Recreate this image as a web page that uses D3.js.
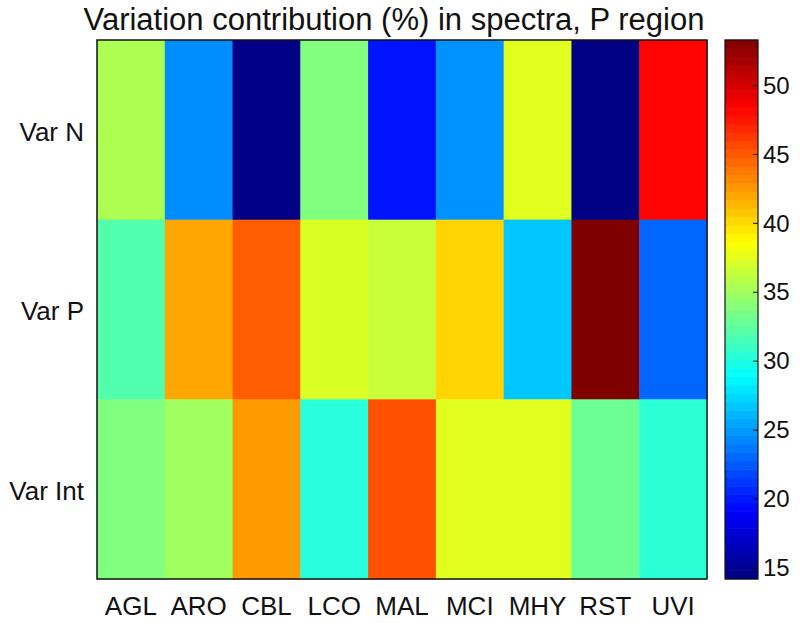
<!DOCTYPE html>
<html><head><meta charset="utf-8">
<script src="https://cdn.jsdelivr.net/npm/d3@7"></script>
<style>body{margin:0;background:#fff;} svg{display:block;font-family:"Liberation Sans",Arial,sans-serif;}</style>
</head><body><svg id="chart" width="800" height="623"></svg>
<script>
const categories = ["AGL","ARO","CBL","LCO","MAL","MCI","MHY","RST","UVI"];
const rows = ["Var N","Var P","Var Int"];
const varN   = [35.5, 24.5, 14.5, 33.8, 19.8, 24.7, 37.5, 14.3, 48.3];
const varP   = [32.0, 42.0, 44.8, 37.2, 36.5, 40.3, 26.7, 53.3, 23.0];
const varInt = [33.8, 35.0, 42.5, 30.3, 45.3, 37.5, 37.5, 33.0, 30.5];
const seriesValues = [varN, varP, varInt];
const colorTicks = [15,20,25,30,35,40,45,50];
const cDomain = [14.2, 53.3];
const title = "Variation contribution (%) in spectra, P region";

function jet(t){
  t = Math.max(0, Math.min(1, t));
  const c = v => Math.round(255*Math.max(0, Math.min(1, v)));
  return `rgb(${c(1.5-Math.abs(4*t-3))},${c(1.5-Math.abs(4*t-2))},${c(1.5-Math.abs(4*t-1))})`;
}
const norm = d3.scaleLinear().domain(cDomain).range([0,1]).clamp(true);
const color = v => jet(norm(v));

const svg = d3.select("#chart");
const m = {left:97, top:40, right:707, bottom:579};
const x = d3.scaleBand().domain(categories).range([m.left, m.right]);
const y = d3.scaleBand().domain(rows).range([m.top, m.bottom]);

const cells = [];
rows.forEach((r,i)=>categories.forEach((c,j)=>cells.push({r,c,v:seriesValues[i][j]})));
svg.append("g").selectAll("rect").data(cells).join("rect")
  .attr("x",d=>x(d.c)).attr("y",d=>y(d.r))
  .attr("width",x.bandwidth()+0.5).attr("height",y.bandwidth()+0.5)
  .attr("fill",d=>color(d.v));
svg.append("rect").attr("x",m.left).attr("y",m.top).attr("width",m.right-m.left).attr("height",m.bottom-m.top)
  .attr("fill","none").attr("stroke","#111").attr("stroke-width",1.5);

// axes labels
const xa = svg.append("g").attr("transform",`translate(0,${m.bottom})`)
  .call(d3.axisBottom(x).tickSize(0).tickPadding(18));
xa.select(".domain").remove();
xa.selectAll("text").attr("font-size",26).attr("fill","#111").attr("font-family","Liberation Sans, Arial, sans-serif");
const ya = svg.append("g").attr("transform",`translate(${m.left},0)`)
  .call(d3.axisLeft(y).tickSize(0).tickPadding(13));
ya.select(".domain").remove();
ya.selectAll("text").attr("font-size",26).attr("fill","#111").attr("font-family","Liberation Sans, Arial, sans-serif")
  .attr("dy","0.42em");

// title
svg.append("text").attr("x",(m.left+m.right)/2 - 8).attr("y",30).attr("text-anchor","middle")
  .attr("font-size",31).attr("fill","#111").text(title);

// colorbar
const cb = {x:725, w:33, top:40, bottom:579};
const cy = d3.scaleLinear().domain(cDomain).range([cb.bottom, cb.top]);
const nSteps = 64;
const steps = d3.range(nSteps).map(i=>cDomain[0] + (i+0.5)*(cDomain[1]-cDomain[0])/nSteps);
const stepH = (cb.bottom-cb.top)/nSteps;
svg.append("g").selectAll("rect").data(steps).join("rect")
  .attr("x",cb.x).attr("width",cb.w)
  .attr("y",d=>cy(d)-stepH/2-0.3).attr("height",stepH+0.6)
  .attr("fill",d=>color(d));
svg.append("rect").attr("x",cb.x).attr("y",cb.top).attr("width",cb.w).attr("height",cb.bottom-cb.top)
  .attr("fill","none").attr("stroke","#111").attr("stroke-width",1.2);
const ca = svg.append("g").attr("transform",`translate(${cb.x+cb.w},0)`)
  .call(d3.axisRight(cy).tickValues(colorTicks).tickSize(0).tickPadding(5));
ca.select(".domain").remove();
ca.selectAll("text").attr("font-size",24).attr("fill","#111").attr("font-family","Liberation Sans, Arial, sans-serif");
svg.append("g").selectAll("line").data(colorTicks).join("line")
  .attr("x1",cb.x+cb.w-5).attr("x2",cb.x+cb.w).attr("y1",d=>cy(d)).attr("y2",d=>cy(d))
  .attr("stroke","#111").attr("stroke-width",1);
</script></body></html>
